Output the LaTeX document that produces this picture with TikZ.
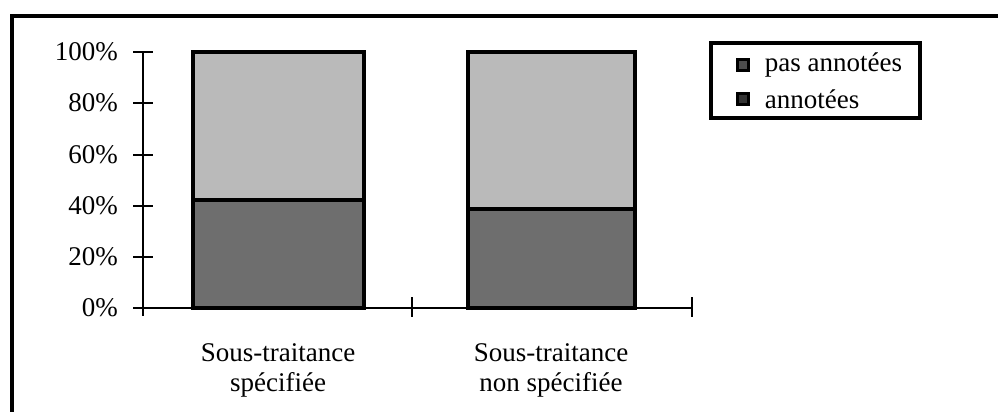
\documentclass[tikz,border=0pt]{standalone}
\usepackage{fontspec}
\setmainfont{Liberation Serif}
\usetikzlibrary{positioning}
\tikzset{
	frame/.style={line width=1.7pt},
	axis/.style={line width=1.4pt},
	bar/.style={draw,line width=1.9pt},
	pas/.style={fill=black!27},
	ann/.style={fill=black!57},
	lbl/.style={font=\fontsize{13.5}{15}\selectfont},
	swatch/.style={draw=black,line width=1.4pt,minimum size=5.5pt,inner sep=0pt}
}

\begin{document}
\begin{tikzpicture}[x=0.5pt,y=-0.5pt]
            \useasboundingbox (0,0) rectangle (998,412);
            \draw[frame] (998,16) -- (12,16) -- (12,412);
            % axes
            \coordinate (o) at (143,308);
            \coordinate (top) at (143,52);
            \coordinate (xend) at (692,308);
            \draw[axis] (top) -- (143,316);
            \draw[axis] (o) -- (xend);
            \foreach \p/\y in {0/308,20/257,40/206,60/155,80/103,100/52} {
                \draw[axis] (133,\y) -- (153,\y);
                \node[lbl,anchor=east] (y\p) at (125,\y) {\p\%};
            }
            \foreach \x in {412,692}
                \draw[axis] (\x,297) -- (\x,317);
            % bars
            \filldraw[bar,pas] (193,52) rectangle (364,200);
            \filldraw[bar,ann] (193,200) rectangle (364,308);
            \filldraw[bar,pas] (468,52) rectangle (635,209);
            \filldraw[bar,ann] (468,209) rectangle (635,308);
            \node[lbl,align=center] (c1) at (278,370) {Sous-traitance\\spécifiée};
            \node[lbl,align=center] (c2) at (551,370) {Sous-traitance\\non spécifiée};
            % legend
            \draw[line width=1.6pt] (711,43) rectangle (920,118);
            \node[swatch,fill=black!70] (k1) at (743,65) {};
            \node[swatch,fill=black!80] (k2) at (743,99) {};
            \node[lbl,right=4pt of k1] (t1) {pas annotées};
            \node[lbl,right=4pt of k2] (t2) {annotées};
        \end{tikzpicture}
\end{document}
